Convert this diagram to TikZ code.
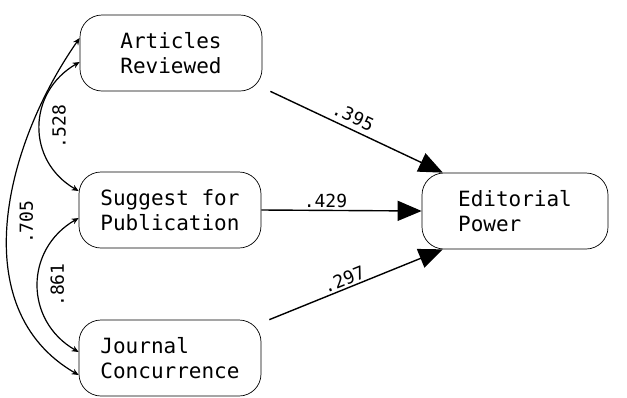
\documentclass[tikz,border=0pt]{standalone}
\usepackage{fontspec}
\setmonofont{DejaVu Sans Mono}
\usetikzlibrary{arrows.meta, positioning}

\begin{document}
\begin{tikzpicture}[x=1pt, y=1pt, font=\ttfamily,
    box/.style={draw, line width=0.7pt, rounded corners=22pt, align=left,
                minimum width=182pt, minimum height=76pt,
                font=\ttfamily\fontsize{21}{25}\selectfont},
    effect/.style={line width=1.4pt, -{Triangle[length=24pt, width=20pt]}},
    corr/.style={line width=1.2pt, {Stealth[length=7pt, width=6pt]}-{Stealth[length=7pt, width=6pt]}},
    coef/.style={font=\ttfamily\fontsize{18}{20}\selectfont, inner sep=2pt}]

\useasboundingbox (0,0) rectangle (627,-397);

% The four variables
\node[box] (art) at (171,-53) {Articles\\Reviewed};
\node[box] (sug) at (170,-210) {Suggest for\\Publication};
\node[box] (jou) at (170,-358) {Journal\\Concurrence};
\node[box, minimum width=186pt] (edi) at (515,-211) {Editorial\\Power};

% Paths to editorial power
\draw[effect] ([xshift=8pt]art.south east) -- (edi.152)
    node[coef, pos=0.45, above=3pt, sloped] {.395};
\draw[effect] (sug.east) -- (edi.west)
    node[coef, pos=0.4, above] {.429};
\draw[effect] ([xshift=8pt]jou.north east) -- (edi.208)
    node[coef, pos=0.45, above, sloped] {.297};

% Correlations among the predictors
\draw[corr] ([yshift=-9pt]art.west) to[out=210, in=150, looseness=1.2]
    node[coef, pos=0.5, rotate=90, anchor=north, yshift=-10pt] {.528} ([yshift=19pt]sug.west);
\draw[corr] ([yshift=15pt]art.west) to[out=235, in=150]
    node[coef, pos=0.5, rotate=90, anchor=north, yshift=-9pt] {.705} ([yshift=-17pt]jou.west);
\draw[corr] ([yshift=-8pt]sug.west) to[out=210, in=150, looseness=1.2]
    node[coef, pos=0.5, rotate=90, anchor=north, yshift=-10pt] {.861} ([yshift=6pt]jou.west);

\end{tikzpicture}
\end{document}
